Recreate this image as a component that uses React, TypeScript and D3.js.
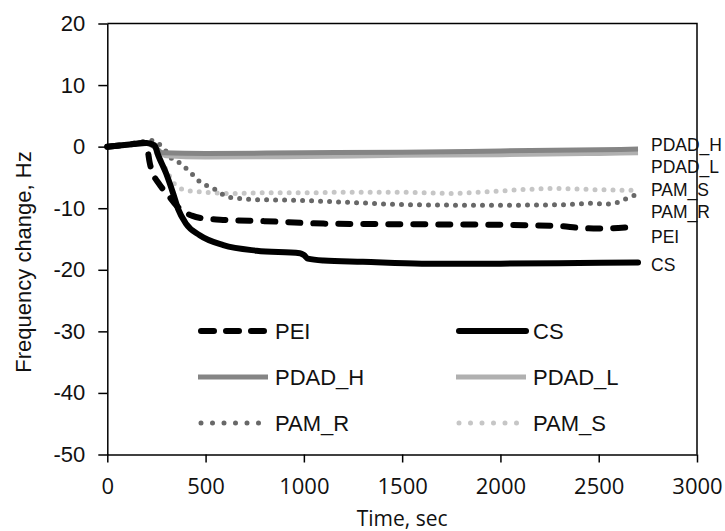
import React, { useEffect, useRef } from 'react';
import * as d3 from 'd3';

// Time (sec) and frequency change (Hz) per coating
const peiTime = [0, 100, 190, 205, 215, 230, 260, 310, 350, 390, 430, 500, 600, 800, 1100, 1500, 2000, 2300, 2400, 2500, 2600, 2700];
const peiFreq = [0, 0.3, 0.6, -0.5, -2.5, -4.2, -5.9, -7.9, -9.5, -10.6, -11.2, -11.7, -11.9, -12.1, -12.5, -12.6, -12.7, -12.9, -13.2, -13.3, -13.2, -13.0];

const csTime = [0, 100, 200, 240, 260, 300, 335, 360, 400, 470, 590, 760, 980, 1000, 1020, 1100, 1300, 1600, 2000, 2400, 2700];
const csFreq = [0, 0.3, 0.6, 0.2, -1.5, -4.4, -7.6, -10.1, -12.5, -14.4, -16.0, -16.9, -17.3, -17.6, -18.2, -18.5, -18.7, -19.0, -19.0, -18.9, -18.8];

const pdadHTime = [0, 100, 200, 240, 280, 500, 1000, 1500, 2000, 2500, 2700];
const pdadHFreq = [0, 0.3, 0.6, 0, -1.0, -1.1, -1.0, -0.9, -0.7, -0.5, -0.4];

const pdadLTime = [0, 100, 200, 250, 300, 500, 1000, 1500, 2000, 2500, 2700];
const pdadLFreq = [0, 0.3, 0.6, -0.3, -1.5, -1.7, -1.6, -1.4, -1.3, -1.1, -1.0];

const pamRTime = [0, 100, 200, 230, 260, 300, 320, 370, 420, 470, 540, 620, 760, 930, 1200, 1500, 1800, 2100, 2350, 2450, 2550, 2600, 2650, 2700];
const pamRFreq = [0, 0.4, 0.9, 1.0, 0.5, -0.8, -1.7, -2.7, -4.1, -5.7, -6.8, -8.2, -8.6, -8.7, -9.0, -9.4, -9.5, -9.5, -9.4, -9.2, -9.3, -9.0, -8.3, -7.7];

const pamSTime = [0, 100, 200, 260, 300, 340, 380, 420, 500, 620, 800, 1000, 1200, 1500, 1750, 1900, 2100, 2300, 2500, 2700];
const pamSFreq = [0, 0.3, 0.7, -1.5, -3.8, -6.0, -6.9, -7.2, -7.4, -7.6, -7.5, -7.5, -7.4, -7.4, -7.6, -7.4, -7.0, -6.8, -7.0, -7.1];

const xTicks = [0, 500, 1000, 1500, 2000, 2500, 3000];
const yTicks = [-50, -40, -30, -20, -10, 0, 10, 20];

type Style = { color: string; width: number; dash: string | null; cap: string };

const series: { name: string; time: number[]; freq: number[]; style: Style }[] = [
  { name: 'PAM_S', time: pamSTime, freq: pamSFreq, style: { color: '#c6c6c6', width: 5, dash: '0 9', cap: 'round' } },
  { name: 'PAM_R', time: pamRTime, freq: pamRFreq, style: { color: '#686868', width: 5, dash: '0 9', cap: 'round' } },
  { name: 'PDAD_L', time: pdadLTime, freq: pdadLFreq, style: { color: '#b0b0b0', width: 5, dash: null, cap: 'butt' } },
  { name: 'PDAD_H', time: pdadHTime, freq: pdadHFreq, style: { color: '#858585', width: 5, dash: null, cap: 'butt' } },
  { name: 'PEI', time: peiTime, freq: peiFreq, style: { color: '#000', width: 6, dash: '12 13', cap: 'round' } },
  { name: 'CS', time: csTime, freq: csFreq, style: { color: '#000', width: 6, dash: null, cap: 'round' } },
];

// end labels on the right, as placed in the original (spread apart)
const endLabels = [
  { name: 'PDAD_H', y: 145 },
  { name: 'PDAD_L', y: 167 },
  { name: 'PAM_S', y: 190 },
  { name: 'PAM_R', y: 212 },
  { name: 'PEI', y: 237 },
  { name: 'CS', y: 265 },
];

// legend: 2 columns x 3 rows
const legendOrder = ['PEI', 'CS', 'PDAD_H', 'PDAD_L', 'PAM_R', 'PAM_S'];

const FONT = '"Liberation Sans", Arial, sans-serif';
const XFONT = '"Open Sans", "Liberation Sans", sans-serif';

export default function App() {
  const svgRef = useRef<SVGSVGElement>(null);

  useEffect(() => {
    if (!svgRef.current) return;
    const svg = d3.select(svgRef.current);
    svg.selectAll('*').remove();

    const left = 107.3, right = 697, top = 23.5, bottom = 454.5;

    const x = d3.scaleLinear().domain([0, 3000]).range([left, right]);
    const y = d3.scaleLinear().domain([-50, 20]).range([bottom, top]);

    // frame (top and right sides)
    svg.append('path')
      .attr('d', `M${left},${top}H${right}V${bottom}`)
      .attr('fill', 'none')
      .attr('stroke', '#000')
      .attr('stroke-width', 1.5);

    const line = d3.line<[number, number]>()
      .x(d => x(d[0]))
      .y(d => y(d[1]))
      .curve(d3.curveMonotoneX);

    series.forEach(s => {
      const pts = s.time.map((t, i) => [t, s.freq[i]] as [number, number]);
      svg.append('path')
        .datum(pts)
        .attr('fill', 'none')
        .attr('stroke', s.style.color)
        .attr('stroke-width', s.style.width)
        .attr('stroke-linecap', s.style.cap)
        .attr('stroke-linejoin', 'round')
        .attr('stroke-dasharray', s.style.dash)
        .attr('d', line);
    });

    // axes
    const yAxis = svg.append('g')
      .attr('transform', `translate(${left},0)`)
      .call(d3.axisLeft(y).tickValues(yTicks).tickSize(9).tickPadding(13).tickSizeOuter(0)
        .tickFormat(d => String(d)));
    const xAxis = svg.append('g')
      .attr('transform', `translate(0,${bottom})`)
      .call(d3.axisBottom(x).tickValues(xTicks).tickSize(8).tickPadding(16).tickSizeOuter(0)
        .tickFormat(d => String(d)));

    [yAxis, xAxis].forEach(g => {
      g.select('.domain').attr('stroke', '#000').attr('stroke-width', 1.5);
      g.selectAll('.tick line').attr('stroke', '#000').attr('stroke-width', 1.5);
      g.selectAll('.tick text')
        .attr('fill', '#111')
        .style('font-family', FONT)
        .style('font-size', '22px');
    });
    xAxis.selectAll('.tick text').style('font-family', XFONT);

    // axis titles
    svg.append('text')
      .attr('x', (left + right) / 2)
      .attr('y', 526)
      .attr('text-anchor', 'middle')
      .style('font-family', XFONT)
      .style('font-size', '21px')
      .attr('fill', '#111')
      .text('Time, sec');

    svg.append('text')
      .attr('transform', `translate(31,262) rotate(-90)`)
      .attr('text-anchor', 'middle')
      .style('font-family', FONT)
      .style('font-size', '22px')
      .attr('fill', '#111')
      .text('Frequency change, Hz');

    // right end labels
    endLabels.forEach(l => {
      svg.append('text')
        .attr('x', 651)
        .attr('y', l.y)
        .attr('dy', '0.35em')
        .style('font-family', FONT)
        .style('font-size', '17.5px')
        .attr('fill', '#111')
        .text(l.name);
    });

    // legend
    const colX = [198, 456];
    const rowY = [331, 377, 423];
    legendOrder.forEach((name, i) => {
      const s = series.find(d => d.name === name)!;
      const cx = colX[i % 2];
      const cy = rowY[Math.floor(i / 2)];
      svg.append('line')
        .attr('x1', cx + (s.style.cap === 'round' ? 3 : 0))
        .attr('x2', cx + 70)
        .attr('y1', cy)
        .attr('y2', cy)
        .attr('stroke', s.style.color)
        .attr('stroke-width', s.style.width)
        .attr('stroke-linecap', s.style.cap)
        .attr('stroke-dasharray', s.style.dash ? (s.style.dash === '0 9' ? '0 11.5' : '13 12') : null);
      svg.append('text')
        .attr('x', cx + 77)
        .attr('y', cy + 8)
        .style('font-family', FONT)
        .style('font-size', '22px')
        .attr('fill', '#111')
        .text(name);
    });
  }, []);

  return (
    <svg
      ref={svgRef}
      width={725}
      height={531}
      style={{ position: 'absolute', left: 0, top: 0, background: '#fff' }}
    />
  );
}
